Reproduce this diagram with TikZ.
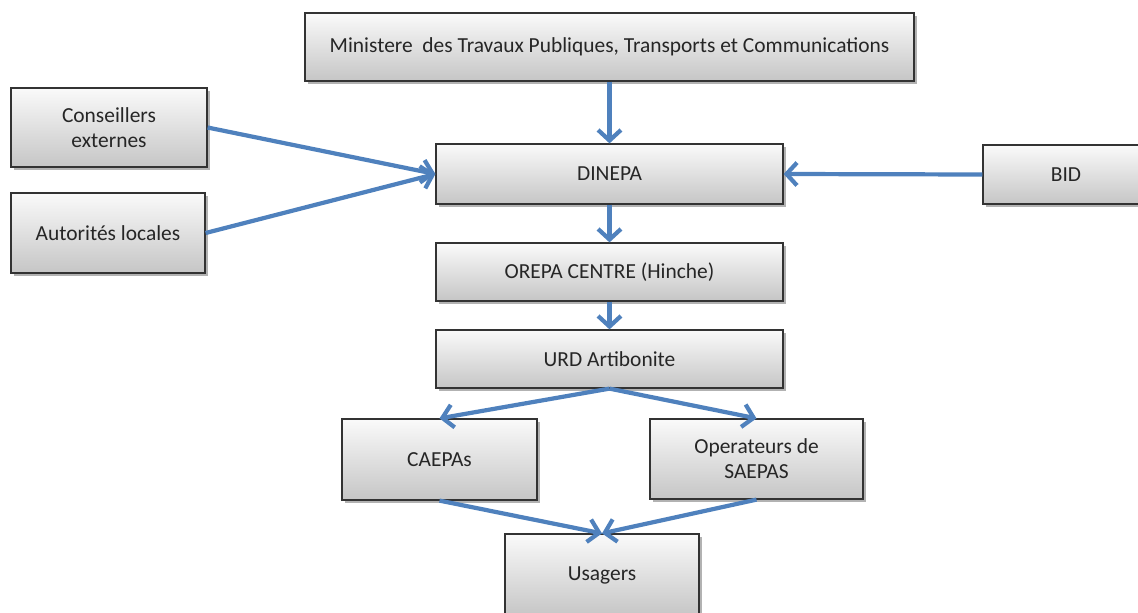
\documentclass[tikz,border=0pt]{standalone}
\usepackage{fontspec}
\setmainfont{Carlito}
\usetikzlibrary{arrows.meta,shadows}
\definecolor{arrowblue}{HTML}{4F81BD}

\begin{document}
\begin{tikzpicture}[x=0.02cm, y=-0.02cm,
  orgbox/.style={rectangle, draw=black!80, line width=0.7pt, top color=gray!4, bottom color=gray!45,
    drop shadow={shadow xshift=1.5pt, shadow yshift=-1.5pt, opacity=0.3, fill=black},
    align=center, inner sep=2pt, text=black!85, font=\fontsize{12.2}{14.2}\selectfont},
  flow/.style={draw=arrowblue, line width=2.4pt, -{Straight Barb[length=6pt,width=13pt]}}]
\useasboundingbox (0,0) rectangle (1138,612);

\node[orgbox, minimum width=12.18cm, minimum height=1.36cm] (min) at (609.5,47) {Ministere\ \ des Travaux Publiques, Transports et Communications};
\node[orgbox, minimum width=3.92cm, minimum height=1.58cm] (cons) at (109,127.5) {Conseillers\\externes};
\node[orgbox, minimum width=3.88cm, minimum height=1.6cm] (aut) at (108,233) {Autorités locales};
\node[orgbox, minimum width=6.94cm, minimum height=1.2cm] (dinepa) at (609.5,174) {DINEPA};
\node[orgbox, minimum width=3.32cm, minimum height=1.18cm] (bid) at (1066,174.5) {BID};
\node[orgbox, minimum width=6.94cm, minimum height=1.16cm] (orepa) at (609.5,272) {OREPA CENTRE (Hinche)};
\node[orgbox, minimum width=6.94cm, minimum height=1.16cm] (urd) at (609.5,359) {URD Artibonite};
\node[orgbox, minimum width=3.9cm, minimum height=1.62cm] (caepa) at (439.5,459.5) {CAEPAs};
\node[orgbox, minimum width=4.26cm, minimum height=1.6cm] (oper) at (756.5,459) {Operateurs de\\SAEPAS};
\node[orgbox, minimum width=3.88cm, minimum height=1.64cm] (usg) at (602,575) {Usagers};

% connectors
\draw[flow] (min) -- (dinepa);
\draw[flow] (cons.east) -- (dinepa.west);
\draw[flow] (aut.east) -- (dinepa.west);
\draw[flow] (bid.west) -- (dinepa.east);
\draw[flow] (dinepa) -- (orepa);
\draw[flow] (orepa) -- (urd);
\draw[flow] (urd.south) -- (caepa.north);
\draw[flow] (urd.south) -- (oper.north);
\draw[flow] (caepa.south) -- (usg.north);
\draw[flow] (oper.south) -- (usg.north);

\end{tikzpicture}
\end{document}
